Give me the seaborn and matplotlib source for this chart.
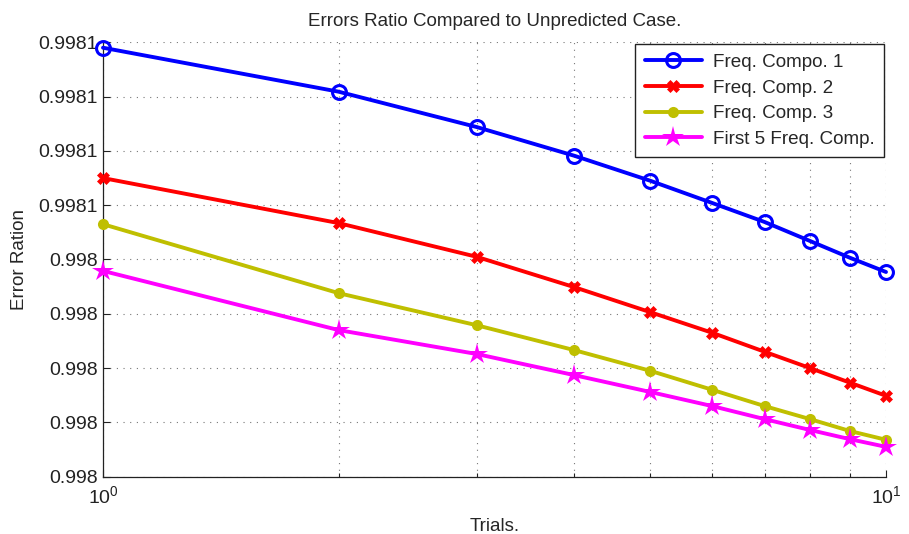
import matplotlib

matplotlib.use("Agg")
import matplotlib.pyplot as plt
import matplotlib.ticker as mticker
import numpy as np
import seaborn as sns

trials = [1, 2, 3, 4, 5, 6, 7, 8, 9, 10]
comp1 = [0.9980890, 0.9980809, 0.9980744, 0.9980691, 0.9980645,
         0.9980604, 0.9980569, 0.9980534, 0.9980503, 0.9980477]
comp2 = [0.9980650, 0.9980567, 0.9980505, 0.9980449, 0.9980403,
         0.9980365, 0.9980330, 0.9980300, 0.9980273, 0.9980249]
comp3 = [0.9980565, 0.9980438, 0.9980379, 0.9980333, 0.9980295,
         0.9980260, 0.9980230, 0.9980206, 0.9980184, 0.9980168]
first5 = [0.9980479, 0.9980370, 0.9980326, 0.9980287, 0.9980256,
          0.9980230, 0.9980206, 0.9980186, 0.9980169, 0.9980155]

y_ticks = [0.99801, 0.99802, 0.99803, 0.99804, 0.99805,
           0.99806, 0.99807, 0.99808, 0.99809]
y_tick_labels = ["0.998", "0.998", "0.998", "0.998", "0.998",
                 "0.9981", "0.9981", "0.9981", "0.9981"]

sns.set_theme(style="white")
plt.rcParams["font.family"] = ["Liberation Sans", "DejaVu Sans"]

fig = plt.figure(figsize=(9.09, 5.34), dpi=100)
ax = fig.add_axes([0.1133, 0.1073, 0.8614, 0.8135])

series = [
    ("Freq. Compo. 1", comp1, "#0000ff", dict(marker="o", markersize=10, markerfacecolor="none",
                                               markeredgewidth=2.2)),
    ("Freq. Comp. 2", comp2, "#ff0000", dict(marker="X", markersize=8, markeredgewidth=0.5)),
    ("Freq. Comp. 3", comp3, "#bfbf00", dict(marker="o", markersize=8, markeredgewidth=0)),
    ("First 5 Freq. Comp.", first5, "#ff00ff", dict(marker="*", markersize=16, markeredgewidth=0)),
]
for label, vals, color, mk in series:
    sns.lineplot(x=trials, y=vals, ax=ax, color=color, linewidth=2.8, label=label,
                 markeredgecolor=color, clip_on=False, zorder=3, **mk)

ax.set_xscale("log")
ax.set_xlim(1, 10)
ax.set_ylim(y_ticks[0], y_ticks[-1])
ax.set_yticks(y_ticks)
ax.set_yticklabels(y_tick_labels)
ax.xaxis.set_major_locator(mticker.LogLocator(base=10))
ax.xaxis.set_minor_locator(mticker.LogLocator(base=10, subs=np.arange(2, 10)))
ax.xaxis.set_minor_formatter(mticker.NullFormatter())

ax.grid(True, which="both", axis="x", linestyle=(0, (1, 5)), color="#777777", linewidth=0.8)
ax.grid(True, which="major", axis="y", linestyle=(0, (1, 5)), color="#777777", linewidth=0.8)
ax.tick_params(axis="both", which="both", direction="in", labelsize=14, colors="#222222",
               length=5, width=0.8, left=True, bottom=True)
ax.tick_params(axis="x", which="minor", length=3)
ax.tick_params(axis="x", which="major", pad=6)
for side in ["top", "right"]:
    ax.spines[side].set_visible(False)
for side in ["left", "bottom"]:
    ax.spines[side].set_color("#222222")
    ax.spines[side].set_linewidth(0.9)

ax.set_title("Errors Ratio Compared to Unpredicted Case.", fontsize=13.5, pad=12)
ax.set_xlabel("Trials.", fontsize=13.5, labelpad=8)
ax.set_ylabel("Error Ration", fontsize=13.5, labelpad=8)

leg = ax.legend(loc="upper right", fontsize=13.6, frameon=True, fancybox=False, framealpha=1,
                edgecolor="#222222", borderpad=0.5, handlelength=3.0, labelspacing=0.45,
                handletextpad=0.6, borderaxespad=0.1)
leg.get_frame().set_linewidth(1.0)
leg.set_zorder(5)

fig.savefig("out.png", dpi=100)
